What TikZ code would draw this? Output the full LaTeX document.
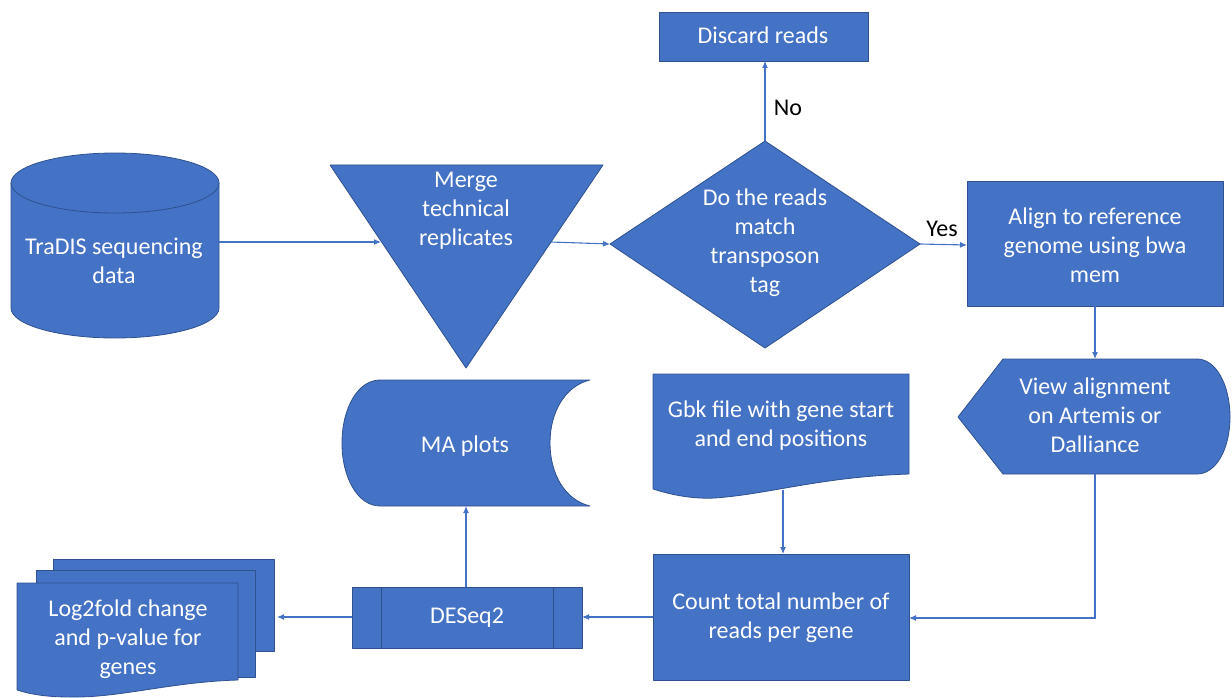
\documentclass[tikz,border=0pt]{standalone}
\usepackage{fontspec}
\setmainfont{Carlito}
\usetikzlibrary{arrows.meta}
\definecolor{obl}{HTML}{4472C4}
\definecolor{obd}{HTML}{2F528F}
\begin{document}
\begin{tikzpicture}[x=1pt,y=-1pt,
  shp/.style={fill=obl, draw=obd, line width=0.8pt, line join=round},
  conn/.style={draw=obl, line width=1.1pt, -{Latex[length=7pt,width=6pt]}},
  plain/.style={draw=obl, line width=1.1pt},
  txt/.style={text=white, align=center, inner sep=0pt, font=\fontsize{24}{29}\selectfont},
  lbl/.style={text=black, inner sep=0pt, font=\fontsize{24}{29}\selectfont}]
\useasboundingbox (0,0) rectangle (1232,698);

% Cylinder
\path[shp] (11,183) -- (11,308) arc[start angle=180, end angle=360, x radius=104pt, y radius=30pt] -- (219,183) -- cycle;
\path[shp] (115,183) ellipse[x radius=104pt, y radius=30pt];
\node[txt] (cyl) at (114,261) {TraDIS sequencing\\data};
\coordinate (cylR) at (219,242);

% Triangle
\path[shp] (330,165) -- (603,165) -- (466,368) -- cycle;
\node[txt] (merge) at (466,211) {Merge\\technical\\replicates};
\coordinate (triL) at (381,242);
\coordinate (triR) at (551,242);

% Diamond
\path[shp] (610,244) -- (765,141) -- (920,244) -- (765,348) -- cycle;
\node[txt] (dec) at (765,243) {Do the reads\\match\\transposon\\tag};
\coordinate (dL) at (610,244);
\coordinate (dT) at (765,141);
\coordinate (dR) at (920,244);

% Discard
\path[shp] (659,12) rectangle (868,61);
\node[txt] (disc) at (763,35) {Discard reads};
\coordinate (discB) at (765,61);

% Align
\path[shp] (967,181) rectangle (1223,306);
\node[txt] (align) at (1095,245) {Align to reference\\genome using bwa\\mem};
\coordinate (alB) at (1095,306);

% View (display)
\path[shp] (958,417) -- (1003,359) -- (1197,359) .. controls (1216,359) and (1230,385) .. (1230,417) .. controls (1230,449) and (1216,474) .. (1197,474) -- (1003,474) -- cycle;
\node[txt] (view) at (1095,415) {View alignment\\on Artemis or\\Dalliance};
\coordinate (viewT) at (1095,359);
\coordinate (viewB) at (1095,474);

% Gbk document
\path[shp] (653,374) -- (909,374) -- (909,474) .. controls (820,477) and (770,494) .. (715,498) .. controls (695,499) and (675,496) .. (653,489) -- cycle;
\node[txt] (gbk) at (781,426) {Gbk file with gene start\\and end positions};
\coordinate (gbkB) at (783,490);

% Count
\path[shp] (653,554) rectangle (909,680);
\node[txt] (count) at (781,618) {Count total number of\\reads per gene};
\coordinate (cT) at (783,554);
\coordinate (cR) at (909,618);
\coordinate (cL) at (653,617);
\coordinate (bend) at (1095,618);

% DESeq2
\path[shp] (352,587) rectangle (582,648);
\draw[obd, line width=0.8pt] (381,587) -- (381,648) (553,587) -- (553,648);
\node[txt] (deseq) at (467,618) {DESeq2};
\coordinate (deR) at (582,617);
\coordinate (deL) at (352,617);
\coordinate (deT) at (466,587);

% MA plots (stored data)
\path[shp] (380,380) -- (590,380) .. controls (565,386) and (550,412) .. (550,443) .. controls (550,474) and (565,500) .. (590,506) -- (380,506) .. controls (358,506) and (342,478) .. (342,443) .. controls (342,408) and (358,380) .. (380,380) -- cycle;
\node[txt] (ma) at (465,446) {MA plots};
\coordinate (maB) at (466,506);

% Log2fold multi-document
\path[shp] (53,559) rectangle (274,651);
\path[shp] (36,570) rectangle (255,677);
\path[shp] (17,583) -- (238,583) -- (238,680) .. controls (170,682) and (120,698) .. (70,697) .. controls (45,697) and (30,694) .. (17,690) -- cycle;
\node[txt] (log) at (128,639) {Log2fold change\\and p-value for\\genes};
\coordinate (logR) at (277,617);

% Connectors
\draw[conn] (cylR) -- (triL);
\draw[conn] (triR) -- (dL);
\draw[conn] (dT) -- (discB);
\draw[conn] (dR) -- (align.west -| 967,244);
\draw[conn] (alB) -- (viewT);
\draw[conn] (viewB) -- (bend) -- (cR);
\draw[conn] (gbkB) -- (cT);
\draw[conn] (cL) -- (deR);
\draw[conn] (deT) -- (maB);
\draw[conn] (deL) -- (logR);

\node[lbl] (no) at (788,108) {No};
\node[lbl] (yes) at (942,229) {Yes};
\end{tikzpicture}
\end{document}
